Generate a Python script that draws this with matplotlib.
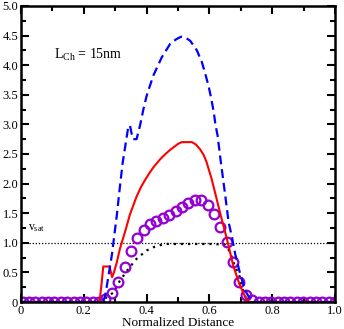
import matplotlib
matplotlib.use("Agg")
import matplotlib.pyplot as plt
import numpy as np
from matplotlib.ticker import MultipleLocator

plt.rcParams["font.family"] = ["Liberation Serif"]
plt.rcParams["mathtext.fontset"] = "custom"
plt.rcParams["mathtext.rm"] = "Liberation Serif"
plt.rcParams["mathtext.it"] = "Liberation Serif:italic"

# hydrodynamic model (blue dashed)
x_hd = [0.0, 0.26, 0.268, 0.289, 0.305, 0.315, 0.324, 0.334, 0.342, 0.347,
        0.352, 0.357, 0.368, 0.379, 0.39, 0.4, 0.421, 0.448, 0.475, 0.495,
        0.51, 0.525, 0.539, 0.56, 0.576, 0.587, 0.598, 0.606, 0.614, 0.619,
        0.626, 0.635, 0.64, 0.651, 0.661, 0.672, 0.682, 0.698, 0.714, 0.73,
        0.74, 1.0]
v_hd = [0.0, 0.0, 0.1, 0.78, 1.46, 1.95, 2.36, 2.7, 2.97, 2.98,
        2.85, 2.75, 2.75, 2.98, 3.26, 3.48, 3.82, 4.13, 4.36, 4.44,
        4.48, 4.46, 4.41, 4.25, 4.05, 3.85, 3.63, 3.43, 3.2, 3.0,
        2.81, 2.42, 2.22, 1.77, 1.35, 1.09, 0.81, 0.47, 0.19, 0.05,
        0.0, 0.0]

# energy balance (red solid)
x_eb = [0.0, 0.25, 0.257, 0.262, 0.282, 0.29, 0.296, 0.305, 0.315, 0.331,
        0.347, 0.368, 0.382, 0.395, 0.408, 0.421, 0.443, 0.46, 0.475, 0.5,
        0.512, 0.544, 0.557, 0.57, 0.582, 0.591, 0.607, 0.623, 0.639, 0.655,
        0.676, 0.697, 0.713, 0.72, 0.725, 1.0]
v_eb = [0.0, 0.0, 0.33, 0.6, 0.6, 0.42, 0.5, 0.67, 0.9, 1.18,
        1.48, 1.78, 1.94, 2.06, 2.17, 2.27, 2.41, 2.5, 2.57, 2.67,
        2.7, 2.7, 2.66, 2.58, 2.48, 2.36, 2.08, 1.74, 1.4, 1.08,
        0.61, 0.28, 0.1, 0.02, 0.0, 0.0]

# drift-diffusion (black dotted)
x_dd = [0.0, 0.25, 0.257, 0.294, 0.315, 0.342, 0.368, 0.4, 0.432, 0.464,
        0.5, 0.55, 0.6, 0.65, 0.665, 0.68, 0.697, 0.703, 0.715, 0.725, 1.0]
v_dd = [0.0, 0.0, 0.02, 0.16, 0.36, 0.56, 0.73, 0.87, 0.95, 0.98,
        0.98, 0.98, 0.98, 0.97, 0.85, 0.62, 0.42, 0.25, 0.08, 0.0, 0.0]

# Monte Carlo (purple circles)
x_mc = np.linspace(0.005, 1.0, 50)
v_mc = [0.0] * 13 + [
    0.05, 0.15, 0.33, 0.59, 0.86, 1.08, 1.22, 1.31, 1.36, 1.42,
    1.47, 1.54, 1.61, 1.67, 1.72, 1.73, 1.64, 1.49, 1.26, 1.01,
    0.67, 0.33, 0.12, 0.04] + [0.0] * 13

v_sat = 1.0

fig = plt.figure(figsize=(3.44, 3.29), dpi=100)
ax = fig.add_axes([0.061, 0.082, 0.913, 0.900])

ax.plot([0.026, 1.0], [v_sat, v_sat], color="black", lw=0.9,
        ls=(0, (1, 1.5)))
ax.plot(x_dd, v_dd, color="black", lw=1.6, ls=(0, (1, 2.2)))
ax.plot(x_mc, v_mc, ls="none", marker="o", ms=7, mfc="none",
        mec="#9400d3", mew=1.6)
ax.plot(x_eb, v_eb, color="#ff0000", lw=1.5)
ax.plot(x_hd, v_hd, color="#0000ff", lw=1.6, ls=(0, (4, 2.2)))

ax.text(0.022, 1.22, r"$\mathregular{v_{sat}}$", fontsize=8.5)
ax.text(0.105, 4.1, r"$\mathregular{L_{Ch}}$ = 15nm", fontsize=10)

ax.set_xlim(0, 1)
ax.set_ylim(0, 5)
ax.xaxis.set_minor_locator(MultipleLocator(0.1))
ax.yaxis.set_minor_locator(MultipleLocator(0.25))
ax.set_xticks([0, 0.2, 0.4, 0.6, 0.8, 1.0])
ax.set_xticklabels(["0", "0.2", "0.4", "0.6", "0.8", "1.0"])
ax.set_yticks(np.arange(0, 5.01, 0.5))
ax.set_yticklabels(["0"] + [f"{v:.1f}" for v in np.arange(0.5, 5.01, 0.5)])

ax.tick_params(which="both", direction="in", top=True, right=True,
               labelsize=9, width=1.5, pad=2)
ax.tick_params(which="major", length=6)
ax.tick_params(which="minor", length=3.5)
for side in ax.spines.values():
    side.set_linewidth(1.8)

ax.set_xlabel("Normalized Distance", fontsize=9.5, labelpad=0)

fig.savefig("out.png", dpi=100)
